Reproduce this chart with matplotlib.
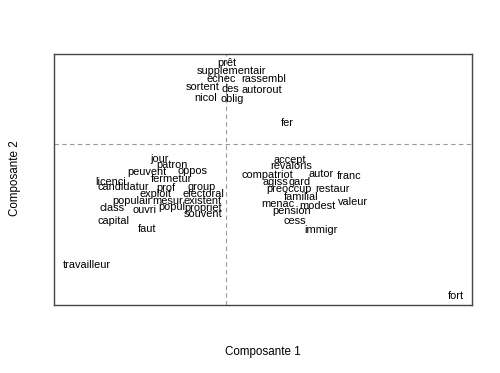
"""
Plan factoriel des mots.

Projection des mots sur les deux premieres composantes
"""
import matplotlib.pyplot as plt

plt.rcParams['font.family'] = ['Liberation Sans', 'DejaVu Sans']

mots = ['prêt', 'supplementair', 'échec', 'rassembl', 'sortent', 'des',
        'autorout', 'nicol', 'oblig', 'fer',
        'jour', 'patron', 'peuvent', 'oppos', 'fermetur', 'licenci',
        'candidatur', 'prof', 'group', 'exploit', 'electoral', 'populair',
        'mesur', 'existent', 'class', 'ouvri', 'popul', 'propriet',
        'souvent', 'capital', 'faut',
        'accept', 'revaloris', 'compatriot', 'autor', 'franc', 'agiss',
        'gard', 'preoccup', 'restaur', 'familial', 'menac', 'modest',
        'valeur', 'pension', 'cess', 'immigr',
        'travailleur', 'fort']
comp1 = [0.005, 0.055, -0.05, 0.375, -0.235, 0.04,
         0.355, -0.205, 0.06, 0.61,
         -0.67, -0.54, -0.79, -0.34, -0.545, -1.15,
         -1.03, -0.605, -0.245, -0.71, -0.23, -0.94,
         -0.585, -0.235, -1.14, -0.82, -0.54, -0.23,
         -0.23, -1.12, -0.79,
         0.64, 0.65, 0.41, 0.95, 1.23, 0.49,
         0.74, 0.63, 1.06, 0.75, 0.52, 0.91,
         1.27, 0.66, 0.69, 0.95,
         -1.39, 2.30]
comp2 = [0.815, 0.735, 0.65, 0.655, 0.575, 0.55,
         0.545, 0.465, 0.455, 0.21,
         -0.145, -0.205, -0.28, -0.27, -0.35, -0.375,
         -0.43, -0.435, -0.425, -0.495, -0.495, -0.57,
         -0.565, -0.57, -0.635, -0.655, -0.63, -0.64,
         -0.70, -0.765, -0.845,
         -0.16, -0.22, -0.31, -0.30, -0.32, -0.38,
         -0.38, -0.45, -0.45, -0.53, -0.60, -0.62,
         -0.58, -0.67, -0.77, -0.86,
         -1.21, -1.52]

fig = plt.figure(figsize=(5, 3.73), dpi=100)
ax = fig.add_axes([0.108, 0.182, 0.836, 0.673])
ax.set_xlim(-1.72, 2.46)
ax.set_ylim(-1.61, 0.90)

ax.axhline(0, color='#999999', lw=0.8, ls=(0, (4, 3)))
ax.axvline(0, color='#999999', lw=0.8, ls=(0, (4, 3)))

for mot, x, y in zip(mots, comp1, comp2):
    ax.text(x, y, mot, ha='center', va='center', fontsize=7.9, color='black')

ax.set_xticks([])
ax.set_yticks([])
for side in ax.spines.values():
    side.set_color('#444444')
    side.set_linewidth(1.0)

fig.text(0.526, 0.056, 'Composante 1', ha='center', va='center', fontsize=8.4)
fig.text(0.030, 0.523, 'Composante 2', ha='center', va='center', fontsize=8.4,
         rotation=90)

fig.savefig('out.png', dpi=100)
